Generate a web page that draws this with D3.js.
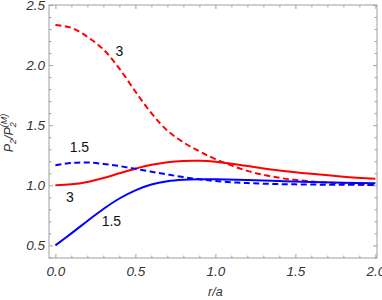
<!DOCTYPE html>
<html lang="en">
<head>
<meta charset="UTF-8">
<title>P2 ratio vs r/a</title>
<script src="https://d3js.org/d3.v7.min.js"></script>
<style>
  body { margin: 0; background: #fff; }
  text { font-family: "Liberation Sans", Arial, sans-serif; }
</style>
</head>
<body>
<div id="chart"></div>
<script>
// Sample points
const rVals = [0, 0.1, 0.2, 0.3, 0.4, 0.5, 0.6, 0.7, 0.8, 0.9, 1.0, 1.2, 1.4, 1.6, 1.8, 2.0];
const red3Dashed = [2.333, 2.31, 2.235, 2.13, 1.97, 1.78, 1.60, 1.455, 1.357, 1.283, 1.218, 1.12, 1.062, 1.032, 1.015, 1.006];
const red3Solid = [1.0, 1.008, 1.028, 1.06, 1.10, 1.138, 1.17, 1.192, 1.203, 1.204, 1.196, 1.16, 1.123, 1.095, 1.072, 1.055];
const blue15Dashed = [1.167, 1.185, 1.19, 1.178, 1.16, 1.137, 1.113, 1.09, 1.068, 1.05, 1.035, 1.018, 1.01, 1.006, 1.004, 1.003];
const blue15Solid = [0.5, 0.6, 0.703, 0.803, 0.89, 0.958, 1.006, 1.034, 1.047, 1.051, 1.05, 1.043, 1.035, 1.027, 1.021, 1.016];

const xMajor = [0, 0.5, 1.0, 1.5, 2.0];
const yMajor = [0.5, 1.0, 1.5, 2.0, 2.5];

const series = [
  { values: red3Dashed, color: "#ff0000", dashed: true },
  { values: red3Solid, color: "#ff0000", dashed: false },
  { values: blue15Dashed, color: "#0000ff", dashed: true },
  { values: blue15Solid, color: "#0000ff", dashed: false }
];

const curveLabels = [
  { text: "3", r: 0.4, v: 2.12 },
  { text: "1.5", r: 0.15, v: 1.32 },
  { text: "3", r: 0.09, v: 0.9 },
  { text: "1.5", r: 0.35, v: 0.7 }
];

const width = 382, height = 300;
const frame = { left: 49, right: 377, top: 5, bottom: 258 };

const svg = d3.select("#chart").append("svg")
  .attr("width", width)
  .attr("height", height);

const x = d3.scaleLinear().domain([-0.04, 2.01]).range([frame.left, frame.right]);
const y = d3.scaleLinear().domain([0.395, 2.5]).range([frame.bottom, frame.top]);

const xMinor = d3.range(0, 2.001, 0.1).map(d => +d.toFixed(2)).filter(d => !xMajor.includes(d));
const yMinor = d3.range(0.4, 2.501, 0.1).map(d => +d.toFixed(2)).filter(d => !yMajor.includes(d));

const frameColor = "#a0a0a0";
const labelColor = "#333";

function styleAxis(g) {
  g.select(".domain").remove();
  g.selectAll(".tick line").attr("stroke", frameColor);
}

// bottom axis
svg.append("g").attr("transform", `translate(0,${frame.bottom})`)
  .call(d3.axisBottom(x).tickValues(xMajor).tickSize(-4).tickFormat(d3.format(".1f")))
  .call(styleAxis)
  .call(g => g.selectAll("text")
    .attr("y", 8).attr("fill", labelColor)
    .attr("font-size", 13.5).attr("font-style", "italic")
    .attr("font-family", "Liberation Sans, Arial, sans-serif"));
svg.append("g").attr("transform", `translate(0,${frame.bottom})`)
  .call(d3.axisBottom(x).tickValues(xMinor).tickSize(-2.5).tickFormat(""))
  .call(styleAxis);

// top axis (ticks only)
svg.append("g").attr("transform", `translate(0,${frame.top})`)
  .call(d3.axisTop(x).tickValues(xMajor).tickSize(-4).tickFormat(""))
  .call(styleAxis);
svg.append("g").attr("transform", `translate(0,${frame.top})`)
  .call(d3.axisTop(x).tickValues(xMinor).tickSize(-2.5).tickFormat(""))
  .call(styleAxis);

// left axis
svg.append("g").attr("transform", `translate(${frame.left},0)`)
  .call(d3.axisLeft(y).tickValues(yMajor).tickSize(-4).tickPadding(4).tickFormat(d3.format(".1f")))
  .call(styleAxis)
  .call(g => g.selectAll("text")
    .attr("fill", labelColor)
    .attr("font-size", 13.5).attr("font-style", "italic")
    .attr("font-family", "Liberation Sans, Arial, sans-serif"));
svg.append("g").attr("transform", `translate(${frame.left},0)`)
  .call(d3.axisLeft(y).tickValues(yMinor).tickSize(-2.5).tickFormat(""))
  .call(styleAxis);

// right axis (ticks only)
svg.append("g").attr("transform", `translate(${frame.right},0)`)
  .call(d3.axisRight(y).tickValues(yMajor).tickSize(-4).tickFormat(""))
  .call(styleAxis);
svg.append("g").attr("transform", `translate(${frame.right},0)`)
  .call(d3.axisRight(y).tickValues(yMinor).tickSize(-2.5).tickFormat(""))
  .call(styleAxis);

// frame
svg.append("rect")
  .attr("x", frame.left).attr("y", frame.top)
  .attr("width", frame.right - frame.left).attr("height", frame.bottom - frame.top)
  .attr("fill", "none").attr("stroke", frameColor).attr("stroke-width", 1);

// curves
const line = d3.line()
  .x((d, i) => x(rVals[i]))
  .y(d => y(d))
  .curve(d3.curveCatmullRom.alpha(0.5));

svg.append("g").selectAll("path")
  .data(series)
  .join("path")
  .attr("d", d => line(d.values))
  .attr("fill", "none")
  .attr("stroke", d => d.color)
  .attr("stroke-width", 2)
  .attr("stroke-dasharray", d => d.dashed ? "6,3.5" : null);

// curve labels
svg.append("g").selectAll("text")
  .data(curveLabels)
  .join("text")
  .attr("x", d => x(d.r))
  .attr("y", d => y(d.v))
  .attr("text-anchor", "middle")
  .attr("dy", "0.35em")
  .attr("font-size", 14)
  .attr("fill", "#111")
  .text(d => d.text);

// axis titles
svg.append("text")
  .attr("x", x(1.0)).attr("y", 296)
  .attr("text-anchor", "middle")
  .attr("font-size", 12.5).attr("font-style", "italic")
  .attr("fill", labelColor)
  .text("r/a");

const yTitle = svg.append("text")
  .attr("transform", "translate(13,133) rotate(-90)")
  .attr("text-anchor", "middle")
  .attr("font-size", 12.5).attr("font-style", "italic")
  .attr("fill", labelColor);
yTitle.append("tspan").text("P");
yTitle.append("tspan").attr("font-size", 9).attr("dy", 3).text("2");
yTitle.append("tspan").attr("dy", -3).text("/P");
yTitle.append("tspan").attr("font-size", 9).attr("dy", 3).text("2");
yTitle.append("tspan").attr("font-size", 9).attr("dy", -9).attr("dx", -5).text("(M)");
</script>
</body>
</html>
